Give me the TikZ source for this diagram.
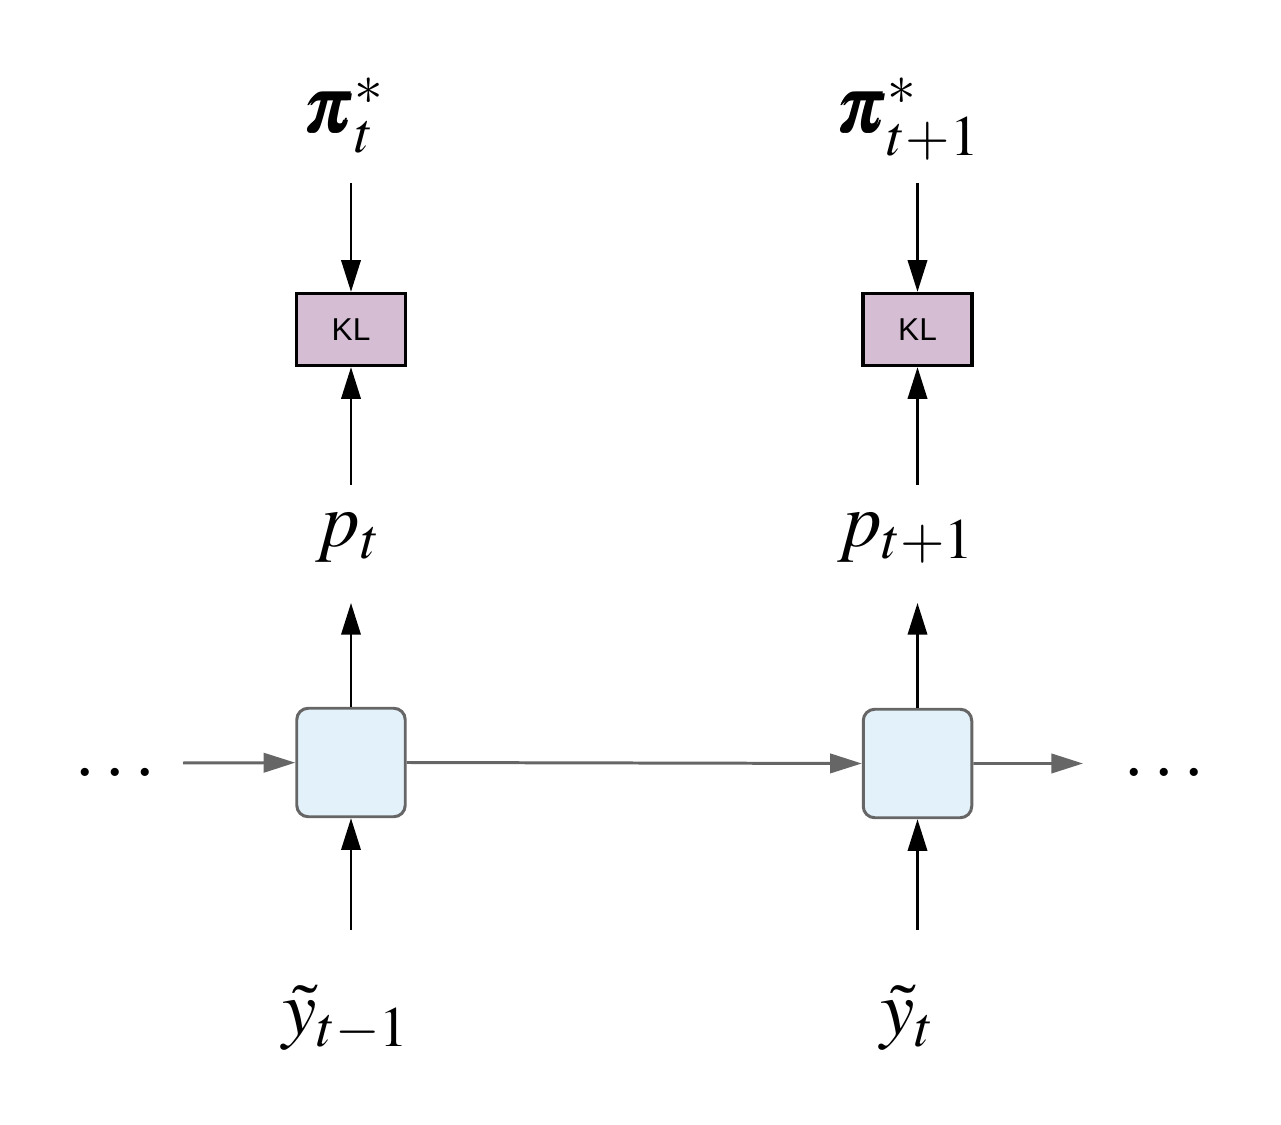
\documentclass[tikz,border=0pt]{standalone}
\usepackage{amsmath}
\usepackage{mathptmx}
\usepackage[no-math]{fontspec}
\newfontfamily\klfont{Liberation Sans}
\usepackage{tikz}
\usetikzlibrary{arrows.meta,positioning,calc}

\definecolor{klfill}{RGB}{213,189,212}
\definecolor{cellfill}{RGB}{227,241,250}
\definecolor{linegray}{RGB}{102,102,102}

\begin{document}
\begin{tikzpicture}[>={Triangle[length=18pt,width=11pt]},
    klbox/.style={draw=black, line width=1.9pt, fill=klfill, minimum width=2.18cm, minimum height=1.44cm, font=\klfont\fontsize{18}{20}\selectfont},
    cellbox/.style={draw=linegray, line width=1.7pt, fill=cellfill, rounded corners=6.5pt, minimum width=2.17cm, minimum height=2.17cm},
    lbl/.style={anchor=base, inner sep=0pt, font=\fontsize{44}{50}\selectfont},
    blkarrow/.style={->, line width=1.4pt, black},
    grayarrow/.style={->, line width=1.7pt, linegray}]
    \useasboundingbox (0,0) rectangle (25.62,-22.5);
    % KL boxes
    \node[klbox] (kla) at (7.02,-6.59) {KL};
    \node[klbox] (klb) at (18.35,-6.59) {KL};
    % Recurrent cells
    \node[cellbox] (cla) at (7.02,-15.25) {};
    \node[cellbox] (clb) at (18.35,-15.27) {};
    % Labels
    \node[lbl] (pia) at (6.90,-2.66) {$\pmb{\pi}^*_t$};
    \node[lbl] (pib) at (18.18,-2.66) {$\pmb{\pi}^*_{t+1}$};
    \node[lbl] (pa) at (6.96,-10.94) {$p_t$};
    \node[lbl] (pb) at (18.12,-10.94) {$p_{t+1}$};
    \node[lbl] (ya) at (6.92,-20.70) {$\tilde{y}_{t-1}$};
    \node[lbl] (yb) at (18.14,-20.70) {$\tilde{y}_t$};
    \node[lbl] (dl) at (2.30,-15.54) {$\ldots$};
    \node[lbl] (dr) at (23.28,-15.54) {$\ldots$};
    % Arrows
    \draw[blkarrow] ($(kla |- pia.base)+(0,-1.00)$) -- (kla);
    \draw[blkarrow] ($(klb |- pib.base)+(0,-1.00)$) -- (klb);
    \draw[blkarrow] ($(kla |- pa.base)+(0,1.24)$) -- (kla);
    \draw[blkarrow] ($(klb |- pb.base)+(0,1.24)$) -- (klb);
    \draw[blkarrow] (cla) -- ($(cla |- pa.base)+(0,-1.12)$);
    \draw[blkarrow] (clb) -- ($(clb |- pb.base)+(0,-1.12)$);
    \draw[blkarrow] ($(cla |- ya.base)+(0,2.10)$) -- (cla);
    \draw[blkarrow] ($(clb |- yb.base)+(0,2.10)$) -- (clb);
    \draw[grayarrow] ($(dl.base)+(1.36,0.28)$) -- (cla);
    \draw[grayarrow] (cla.east) -- (clb.west);
    \draw[grayarrow] (clb.east) -- ($(dr.base)+(-1.62,0.27)$);
\end{tikzpicture}
\end{document}
